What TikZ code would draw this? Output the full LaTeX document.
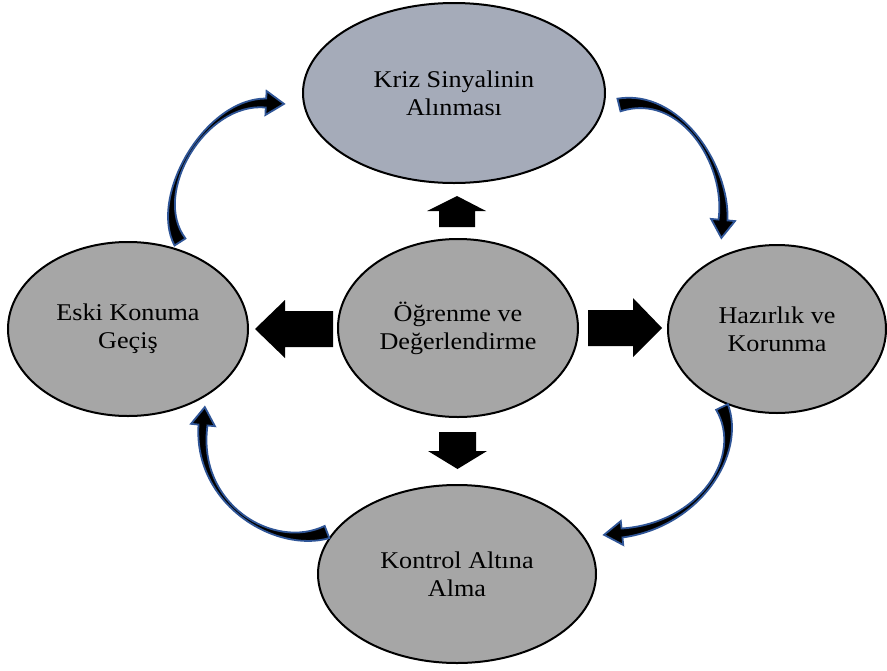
\documentclass[tikz,border=0pt]{standalone}
\usepackage{fontspec}
\setmainfont{Liberation Serif}[FakeStretch=1.09]
\usetikzlibrary{shapes.geometric,calc}
\definecolor{topfill}{RGB}{165,171,185}
\definecolor{grayfill}{RGB}{166,166,166}
\definecolor{arrblue}{RGB}{47,85,151}
\newcommand\cvarrow[4]{%
  \coordinate (q0) at (#1); \coordinate (q1) at (#2);
  \coordinate (q2) at (#3); \coordinate (q3) at (#4);
  \filldraw[curvarr]
    ($(q0)!6.5pt!90:(q1)$)
    .. controls ($(q1)!1.8pt!-90:(q0)$) and ($(q2)!1.8pt!90:(q3)$) ..
    ($(q3)!4.5pt!-90:(q2)$)
    -- ($(q3)!12pt!-90:(q2)$)
    -- ($(q3)!18pt!180:(q2)$)
    -- ($(q3)!12pt!90:(q2)$)
    -- ($(q3)!4.5pt!90:(q2)$)
    .. controls ($(q2)!1.8pt!-90:(q3)$) and ($(q1)!1.8pt!90:(q0)$) ..
    ($(q0)!6.5pt!-90:(q1)$) -- cycle;
}
\tikzset{
  stage/.style={ellipse, draw=black, line width=2pt, inner sep=0pt, align=center,
    font=\fontsize{24}{28}\selectfont},
  curvarr/.style={fill=black, draw=arrblue, line width=1.8pt, line join=miter},
  blockarr/.style={fill=black, draw=none}
}
\begin{document}
\begin{tikzpicture}[x=1pt,y=-1pt]
\useasboundingbox (0,0) rectangle (887,670);
\fill[white] (0,0) rectangle (887,670);
% stages
\node[stage, fill=topfill, minimum width=302pt, minimum height=180pt] (top) at (454,93) {Kriz Sinyalinin\\Alınması};
\node[stage, fill=grayfill, minimum width=240pt, minimum height=174pt] (left) at (128,329) {Eski Konuma\\Geçiş};
\node[stage, fill=grayfill, minimum width=240pt, minimum height=178pt] (center) at (458,328) {Öğrenme ve\\Değerlendirme};
\node[stage, fill=grayfill, minimum width=218pt, minimum height=168pt] (right) at (777,329) {Hazırlık ve\\Korunma};
\node[stage, fill=grayfill, minimum width=278pt, minimum height=178pt] (bottom) at (457,574) {Kontrol Altına\\Alma};
% block arrows from the centre
\fill[blockarr] (439,227) -- (439,211) -- (427,211) -- (457,196) -- (486,211) -- (475,211) -- (475,227) -- cycle;
\fill[blockarr] (439,432) -- (476,432) -- (476,451) -- (487,451) -- (457.5,469) -- (428,451) -- (439,451) -- cycle;
\fill[blockarr] (333,311) -- (285,311) -- (285,300) -- (255,329) -- (285,358) -- (285,347) -- (333,347) -- cycle;
\fill[blockarr] (588,310) -- (633,310) -- (633,298) -- (662,328) -- (633,357) -- (633,346) -- (588,346) -- cycle;
% curved arrows of the cycle
\cvarrow{180,242}{150,195}{205,100}{266,103}
\cvarrow{619,105}{680,90}{728,165}{723,220}
\cvarrow{722,407}{745,455}{700,525}{622,533}
\cvarrow{327,532}{275,552}{195,505}{203,425}
\end{tikzpicture}
\end{document}
